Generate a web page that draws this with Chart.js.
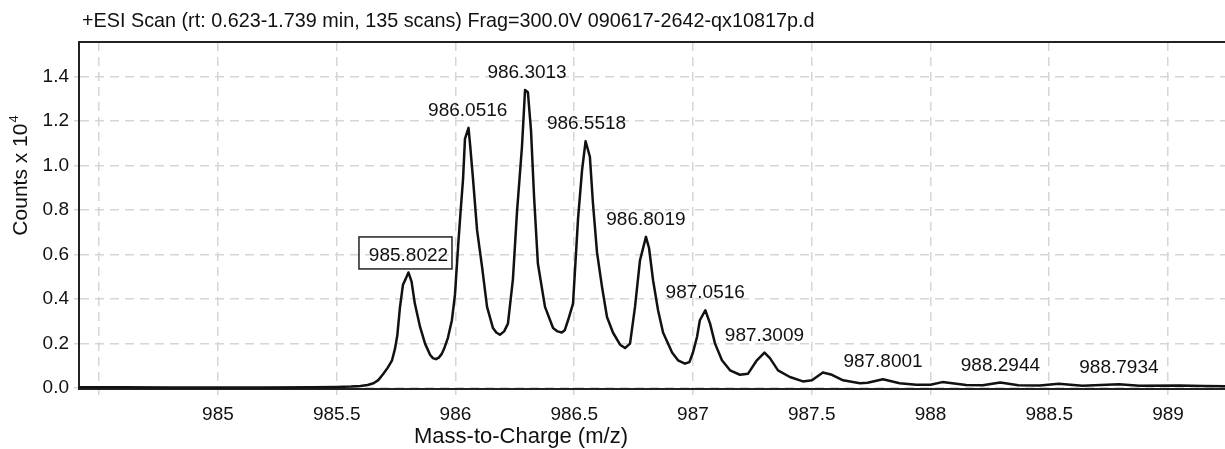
<!DOCTYPE html>
<html>
<head>
<meta charset="utf-8">
<script src="https://cdn.jsdelivr.net/npm/chart.js@4.4.1/dist/chart.umd.min.js"></script>
<style>
  html, body { margin: 0; padding: 0; background: #fff; }
</style>
</head>
<body>
<canvas id="myChart" width="1225" height="449"></canvas>
<script>
// setup
const titleText = "+ESI Scan (rt: 0.623-1.739 min, 135 scans) Frag=300.0V 090617-2642-qx10817p.d";
const xTitle = "Mass-to-Charge (m/z)";
const yTitle = "Counts x 10";
const yTitleExp = "4";

// spectrum profile (m/z, counts x 10^4)
const mz = [
  984.415, 984.6, 984.8, 985.0, 985.2, 985.4, 985.5, 985.56, 985.6, 985.63,
  985.655, 985.675, 985.695, 985.715, 985.733, 985.745, 985.755, 985.766, 985.779, 985.79,
  985.802, 985.815, 985.829, 985.851, 985.872, 985.893,
  985.905, 985.918, 985.93, 985.943, 985.955, 985.968, 985.985, 985.998, 986.011, 986.022,
  986.032, 986.040, 986.055, 986.062, 986.074, 986.091, 986.112, 986.133, 986.158, 986.172,
  986.187, 986.205, 986.221, 986.242, 986.259, 986.280, 986.293, 986.305, 986.318, 986.331,
  986.347, 986.377, 986.411, 986.43, 986.448, 986.46, 986.474, 986.495, 986.516, 986.533,
  986.548, 986.566, 986.579, 986.596, 986.617, 986.638, 986.663, 986.693, 986.714, 986.735,
  986.756, 986.777, 986.802, 986.815, 986.832, 986.853, 986.874, 986.912, 986.937, 986.966,
  986.985, 987.0, 987.017, 987.029, 987.052, 987.072, 987.093, 987.122, 987.156, 987.198,
  987.232, 987.269, 987.301, 987.324, 987.358, 987.408, 987.463, 987.501, 987.547, 987.585,
  987.632, 987.703, 987.735, 987.8, 987.87, 987.94, 988.0, 988.05, 988.15, 988.22,
  988.294, 988.37, 988.46, 988.54, 988.64, 988.793, 988.88, 989.05, 989.15, 989.24
];
const counts = [
  0.004, 0.004, 0.003, 0.003, 0.003, 0.004, 0.005, 0.007, 0.01, 0.014,
  0.022, 0.036, 0.062, 0.092, 0.125, 0.175, 0.235, 0.36, 0.465, 0.49,
  0.52, 0.48, 0.38, 0.275, 0.2, 0.15,
  0.135, 0.13, 0.137, 0.155, 0.185, 0.225, 0.305, 0.42, 0.635, 0.8,
  0.94, 1.12, 1.17, 1.09, 0.94, 0.71, 0.545, 0.365, 0.27, 0.25,
  0.24, 0.255, 0.29, 0.49, 0.79, 1.085, 1.34, 1.33, 1.16, 0.86,
  0.56, 0.365, 0.27, 0.255, 0.25, 0.26, 0.305, 0.38, 0.76, 0.98,
  1.11, 1.04, 0.83, 0.61, 0.455, 0.32, 0.25, 0.195, 0.18, 0.2,
  0.365, 0.575, 0.68, 0.63, 0.485, 0.35, 0.25, 0.16, 0.125, 0.11,
  0.117, 0.16, 0.23, 0.305, 0.35, 0.29, 0.2, 0.125, 0.08, 0.06,
  0.065, 0.125, 0.16, 0.135, 0.08, 0.05, 0.03, 0.035, 0.07, 0.06,
  0.035, 0.022, 0.024, 0.04, 0.022, 0.015, 0.015, 0.027, 0.014, 0.013,
  0.025, 0.013, 0.012, 0.02, 0.011, 0.017, 0.011, 0.012, 0.009, 0.008
];

// labelled peaks
const peakMz = [985.8022, 986.0516, 986.3013, 986.5518, 986.8019, 987.0516, 987.3009, 987.8001, 988.2944, 988.7934];
const peakCounts = [0.52, 1.17, 1.34, 1.11, 0.68, 0.35, 0.16, 0.04, 0.025, 0.017];
const peakLabels = ["985.8022", "986.0516", "986.3013", "986.5518", "986.8019", "987.0516", "987.3009", "987.8001", "988.2944", "988.7934"];
const boxedPeak = "985.8022";

// ticks
const xTickValues = [984.5, 985, 985.5, 986, 986.5, 987, 987.5, 988, 988.5, 989];
const xTickLabels = ["", "985", "985.5", "986", "986.5", "987", "987.5", "988", "988.5", "989"];
const yTickValues = [0, 0.2, 0.4, 0.6, 0.8, 1.0, 1.2, 1.4];
const yTickLabels = ["0.0", "0.2", "0.4", "0.6", "0.8", "1.0", "1.2", "1.4"];

const FONT = '"Liberation Sans", Arial, Helvetica, sans-serif';
Chart.defaults.font.family = FONT;
Chart.defaults.color = "#111";

const gridColor = "#d6d6d6";

// texts drawn on top: title, axis titles, peak labels, top frame line
const msText = {
  id: "msText",
  afterDraw(chart) {
    const { ctx, chartArea: a, scales } = chart;
    const x = scales.x, y = scales.y;
    ctx.save();

    ctx.strokeStyle = "#222";
    ctx.lineWidth = 2;
    ctx.beginPath();
    ctx.moveTo(a.left - 1, a.top);
    ctx.lineTo(a.right, a.top);
    ctx.stroke();

    ctx.fillStyle = "#111";
    ctx.font = "19px " + FONT;
    ctx.textAlign = "center";
    ctx.textBaseline = "middle";
    peakMz.forEach((m, i) => {
      const px = x.getPixelForValue(m);
      const py = y.getPixelForValue(peakCounts[i]) - 17;
      ctx.fillText(peakLabels[i], px, py);
      if (peakLabels[i] === boxedPeak) {
        ctx.lineWidth = 1.5;
        ctx.strokeStyle = "#222";
        ctx.strokeRect(px - 49.5, py - 18.5, 93, 32);
      }
    });

    // chart title
    ctx.textAlign = "left";
    ctx.font = "19.8px " + FONT;
    ctx.fillText(titleText, 82, 22);

    // x axis title
    ctx.textAlign = "center";
    ctx.font = "22px " + FONT;
    ctx.fillText(xTitle, 521, 437);

    // y axis title, rotated, with superscript
    ctx.translate(21, 176);
    ctx.rotate(-Math.PI / 2);
    ctx.font = "21px " + FONT;
    const w1 = ctx.measureText(yTitle).width;
    ctx.font = "13px " + FONT;
    const w2 = ctx.measureText(yTitleExp).width;
    const x0 = -(w1 + w2) / 2;
    ctx.textAlign = "left";
    ctx.font = "21px " + FONT;
    ctx.fillText(yTitle, x0, 0);
    ctx.font = "13px " + FONT;
    ctx.fillText(yTitleExp, x0 + w1 + 1, -7);

    ctx.restore();
  }
};

// config
const config = {
  type: "line",
  data: {
    datasets: [{
      data: mz.map((m, i) => ({ x: m, y: counts[i] })),
      borderColor: "#111",
      borderWidth: 2.5,
      borderJoinStyle: "round",
      pointRadius: 0,
      fill: false,
      tension: 0
    }]
  },
  options: {
    responsive: false,
    animation: false,
    devicePixelRatio: 1,
    layout: { padding: { top: 42, left: 0, right: 0, bottom: 0 } },
    plugins: { legend: { display: false }, tooltip: { enabled: false } },
    scales: {
      x: {
        type: "linear",
        min: 984.415,
        max: 989.24,
        afterBuildTicks: (s) => { s.ticks = xTickValues.map(v => ({ value: v })); },
        afterFit: (s) => { s.height = 60; },
        grid: { color: gridColor, lineWidth: 1.5, tickLength: 6, tickColor: gridColor },
        border: { display: true, color: "#222", width: 2, dash: [9, 6] },
        ticks: {
          autoSkip: false,
          maxRotation: 0,
          padding: 8,
          font: { size: 19 },
          callback: (v, i) => xTickLabels[i]
        }
      },
      y: {
        min: -0.004,
        max: 1.556,
        afterBuildTicks: (s) => { s.ticks = yTickValues.map(v => ({ value: v })); },
        afterFit: (s) => { s.width = 79; },
        grid: { color: gridColor, lineWidth: 1.5, tickLength: 5, tickColor: gridColor },
        border: { display: true, color: "#222", width: 2, dash: [9, 6] },
        ticks: {
          padding: 5,
          font: { size: 19 },
          callback: (v, i) => yTickLabels[i]
        }
      }
    }
  },
  plugins: [msText]
};

// render init block
const myChart = new Chart(document.getElementById("myChart"), config);
</script>
</body>
</html>
